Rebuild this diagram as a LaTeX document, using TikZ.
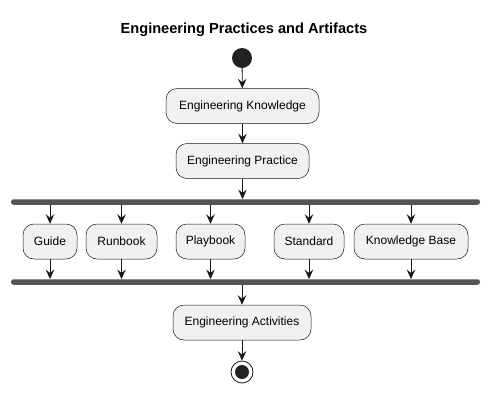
\documentclass[tikz,border=0pt]{standalone}
\usepackage{fontspec}
\setmainfont{Liberation Sans}
\usetikzlibrary{arrows.meta}
\definecolor{boxfill}{HTML}{F1F1F1}
\definecolor{linec}{HTML}{181818}
\definecolor{barc}{HTML}{555555}
\definecolor{dotc}{HTML}{222222}
\begin{document}
\begin{tikzpicture}[x=1pt,y=-1pt,
  act/.style={draw=linec, fill=boxfill, rounded corners=11pt, minimum height=35pt, inner sep=0pt,
    font=\fontsize{12}{14}\selectfont, line width=0.5pt},
  bar/.style={fill=barc, rounded corners=2.5pt, inner sep=0pt, minimum height=5.5pt, minimum width=469pt},
  arr/.style={draw=linec, line width=0.8pt, -{Stealth[length=9.5pt,width=8.5pt,inset=3.5pt]}}]
\useasboundingbox (0,0) rectangle (490,392);
\node[font=\fontsize{14.6}{16}\selectfont\bfseries] (title) at (244,30) {Engineering Practices and Artifacts};
\node[circle, fill=dotc, minimum size=20pt, inner sep=0pt] (start) at (242,58) {};
\node[act, minimum width=153pt] (k1) at (242.5,106) {Engineering Knowledge};
\node[act, minimum width=133pt] (k2) at (242.5,161) {Engineering Practice};
\node[bar] (fork1) at (245.5,202) {};
\node[act, minimum width=54pt] (guide) at (50,241.5) {Guide};
\node[act, minimum width=71pt] (runbook) at (121.5,241.5) {Runbook};
\node[act, minimum width=69pt] (playbook) at (210.5,241.5) {Playbook};
\node[act, minimum width=70pt] (standard) at (309,241.5) {Standard};
\node[act, minimum width=114pt] (kb) at (411,241.5) {Knowledge Base};
\node[bar] (fork2) at (245.5,282) {};
\node[act, minimum width=138pt] (acts) at (242,322.5) {Engineering Activities};
\node[circle, draw=linec, line width=0.8pt, fill=white, minimum size=22pt, inner sep=0pt] (end) at (242,372) {};
\node[circle, fill=dotc, minimum size=14pt, inner sep=0pt] (enddot) at (end.center) {};
\draw[arr] (start) -- (k1);
\draw[arr] (k1) -- (k2);
\draw[arr] (k2.south) -- (k2.south |- fork1.north);
\foreach \n in {guide,runbook,playbook,standard,kb}{
  \draw[arr] (fork1.south -| \n.north) -- (\n.north);
  \draw[arr] (\n.south) -- (\n.south |- fork2.north);
}
\draw[arr] (fork2.south -| acts.north) -- (acts.north);
\draw[arr] (acts.south) -- (end.north);
\end{tikzpicture}
\end{document}
